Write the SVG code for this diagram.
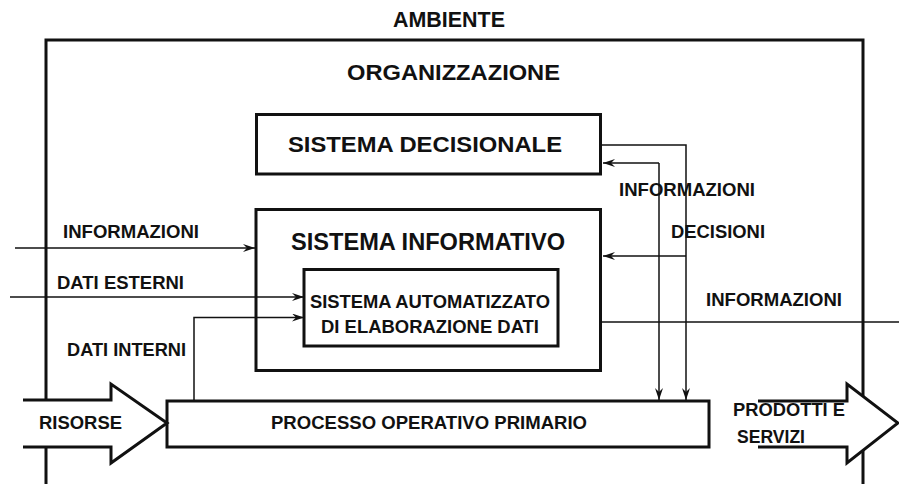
<svg xmlns="http://www.w3.org/2000/svg" width="899" height="484" viewBox="0 0 899 484">
<defs>
<marker id="ah" viewBox="0 0 12 8" refX="12" refY="4" markerWidth="12" markerHeight="8" markerUnits="userSpaceOnUse" orient="auto">
<path d="M0,0 L12,4 L0,8 L4,4 z" fill="#111"/>
</marker>
<style>
text{font-family:"Liberation Sans",Arial,sans-serif;font-weight:bold;fill:#111}
.t{font-size:22px}
.s{font-size:18.5px}
.m{font-size:19px}
.box{fill:#fff;stroke:#111;stroke-width:3}
.fr{fill:none;stroke:#111;stroke-width:3}
.c{fill:none;stroke:#111;stroke-width:1.5}
.ca{fill:none;stroke:#111;stroke-width:1.5;marker-end:url(#ah)}
.big{fill:#fff;stroke:#111;stroke-width:3;stroke-linejoin:miter}
</style>
</defs>
<rect width="899" height="484" fill="#fff"/>
<g id="ambiente">
<path class="fr" d="M46,484 L46,40 L863,40 L863,484"/>
<text class="t" x="393" y="26.5" textLength="112" lengthAdjust="spacingAndGlyphs">AMBIENTE</text>
</g>
<g id="organizzazione">
<text class="t" x="347" y="80" textLength="213" lengthAdjust="spacingAndGlyphs">ORGANIZZAZIONE</text>
</g>
<g id="sistema-decisionale">
<rect class="box" x="256.5" y="114.5" width="344" height="59.5"/>
<text class="t" x="288" y="151.5" textLength="274" lengthAdjust="spacingAndGlyphs">SISTEMA DECISIONALE</text>
</g>
<g id="sistema-informativo">
<rect class="box" x="256" y="209.5" width="344.5" height="161"/>
<text class="t" x="291" y="250" style="font-size:23.5px" textLength="274" lengthAdjust="spacingAndGlyphs">SISTEMA INFORMATIVO</text>
</g>
<g id="sistema-automatizzato">
<rect class="box" x="304" y="269.5" width="254" height="76.5"/>
<text class="m" x="310" y="308.3" textLength="240" lengthAdjust="spacingAndGlyphs">SISTEMA AUTOMATIZZATO</text>
<text class="m" x="321" y="333.3" textLength="218" lengthAdjust="spacingAndGlyphs">DI ELABORAZIONE DATI</text>
</g>
<g id="processo">
<rect class="box" x="167" y="401" width="542" height="46"/>
<text class="s" x="271" y="429" textLength="316" lengthAdjust="spacingAndGlyphs">PROCESSO OPERATIVO PRIMARIO</text>
</g>
<g id="risorse">
<path class="big" d="M23,400 L111,400 L111,384 L167,423 L111,463 L111,447 L23,447"/>
<text class="s" x="39" y="429" textLength="83" lengthAdjust="spacingAndGlyphs">RISORSE</text>
</g>
<g id="prodotti">
<path class="big" d="M758,401 L847,401 L847,384 L898,423 L847,463 L847,447 L758,447"/>
<text class="s" x="733" y="416" textLength="112" lengthAdjust="spacingAndGlyphs">PRODOTTI E</text>
<text class="s" x="737" y="443" textLength="68" lengthAdjust="spacingAndGlyphs">SERVIZI</text>
</g>
<g id="connectors">
<line class="ca" x1="15" y1="248" x2="255" y2="248"/>
<line class="ca" x1="10" y1="297" x2="304" y2="297"/>
<path class="ca" d="M194,400 L194,317.5 L304,317.5"/>
<path class="c" d="M601,145 L686,145 L686,256"/>
<line class="ca" x1="686" y1="256" x2="686" y2="400"/>
<line class="ca" x1="686" y1="256" x2="603" y2="256"/>
<line class="ca" x1="659" y1="163" x2="659" y2="400"/>
<line class="ca" x1="659" y1="163" x2="603" y2="163"/>
<line class="c" x1="601" y1="322" x2="899" y2="322"/>
</g>
<g id="labels">
<text class="s" x="63" y="238.3" textLength="136" lengthAdjust="spacingAndGlyphs">INFORMAZIONI</text>
<text class="s" x="57" y="289.3" textLength="127" lengthAdjust="spacingAndGlyphs">DATI ESTERNI</text>
<text class="s" x="67" y="356" textLength="119" lengthAdjust="spacingAndGlyphs">DATI INTERNI</text>
<text class="s" x="619" y="196" textLength="136" lengthAdjust="spacingAndGlyphs">INFORMAZIONI</text>
<text class="s" x="671" y="238" textLength="94" lengthAdjust="spacingAndGlyphs">DECISIONI</text>
<text class="s" x="706" y="306" textLength="136" lengthAdjust="spacingAndGlyphs">INFORMAZIONI</text>
</g>
</svg>
